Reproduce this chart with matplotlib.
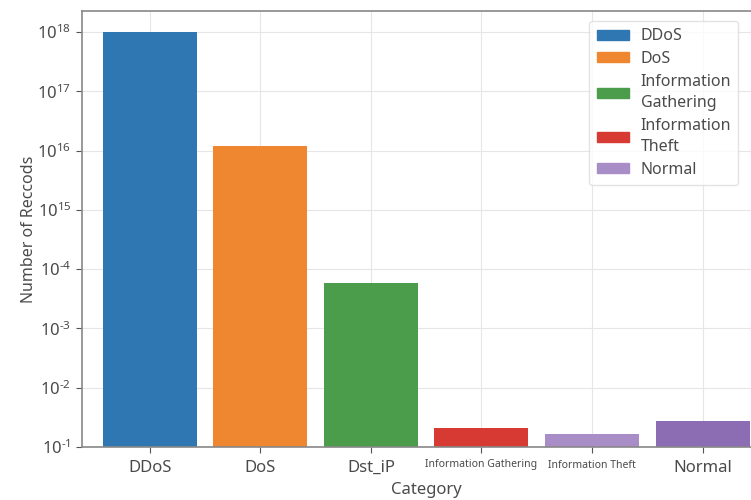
import matplotlib
matplotlib.use("Agg")
import matplotlib.pyplot as plt
import numpy as np

# Record counts per category, expressed in axis decades above the baseline
categories = ["DDoS", "DoS", "Dst_iP", "Information Gathering", "Information Theft", "Normal"]
values = [1.0e7, 1.2e5, 5.9e2, 2.1, 1.66, 2.75]
bar_colors = ["#2f77b2", "#ef8730", "#4b9c4b", "#d63a33", "#a88dc6", "#8c6cb3"]

legend_labels = ["DDoS", "DoS", "Information\nGathering", "Information\nTheft", "Normal"]
legend_colors = ["#2f77b2", "#ef8730", "#4b9c4b", "#d63a33", "#a88dc6"]

ytick_labels = [r"$10^{\text{-}1}$", r"$10^{\text{-}2}$", r"$10^{\text{-}3}$", r"$10^{\text{-}4}$",
                r"$10^{15}$", r"$10^{16}$", r"$10^{17}$", r"$10^{18}$"]
ytick_positions = [10.0 ** k for k in range(len(ytick_labels))]

plt.rcParams["font.family"] = ["Noto Sans", "DejaVu Sans"]
plt.rcParams["mathtext.fontset"] = "custom"
plt.rcParams["mathtext.rm"] = "Noto Sans"
plt.rcParams["mathtext.it"] = "Noto Sans"
plt.rcParams["mathtext.bf"] = "Noto Sans"
plt.rcParams["mathtext.default"] = "regular"
text_color = "#4a4a4a"

fig = plt.figure(figsize=(7.51, 5.0), dpi=100)
ax = fig.add_axes([0.109, 0.106, 0.917, 0.872])

x = np.arange(len(categories))
ax.bar(x, values, width=0.85, color=bar_colors, zorder=2)

ax.set_yscale("log")
ax.set_ylim(1.0, 10 ** 7.354)
ax.set_xlim(-0.615, len(categories) - 1 + 0.615)
ax.set_yticks(ytick_positions)
ax.set_yticklabels(ytick_labels)
ax.yaxis.set_minor_locator(matplotlib.ticker.NullLocator())
ax.set_xticks(x)
ax.set_xticklabels(categories)
for lbl in ax.get_xticklabels():
    if lbl.get_text().startswith("Information"):
        lbl.set_fontsize(7.5)
    else:
        lbl.set_fontsize(12)
for lbl in ax.get_yticklabels():
    lbl.set_fontsize(12)

ax.tick_params(axis="both", colors="#555555", labelcolor=text_color, length=4, width=0.8)
ax.tick_params(axis="x", pad=5)
ax.set_xlabel("Category", fontsize=12, color=text_color, labelpad=5)
ax.set_ylabel("Number of Reccods", fontsize=11.5, color=text_color, labelpad=0)

ax.grid(True, color="#e6e6e6", linewidth=0.8, zorder=0)
ax.set_axisbelow(True)
for side in ["left", "bottom", "top"]:
    ax.spines[side].set_color("#888888")
    ax.spines[side].set_linewidth(1.2)
ax.spines["right"].set_visible(False)

handles = [matplotlib.patches.Patch(color=c) for c in legend_colors]
leg = ax.legend(handles, legend_labels, loc="upper left", bbox_to_anchor=(0.737, 0.977),
                borderaxespad=0.0, fontsize=11.5, frameon=True, fancybox=True,
                handlelength=2.0, handleheight=0.6, handletextpad=0.75,
                labelspacing=0.42, borderpad=0.45)
leg.get_frame().set_edgecolor("#dddddd")
for t in leg.get_texts():
    t.set_color(text_color)
    t.set_linespacing(1.45)

fig.savefig("out.png", dpi=100)
